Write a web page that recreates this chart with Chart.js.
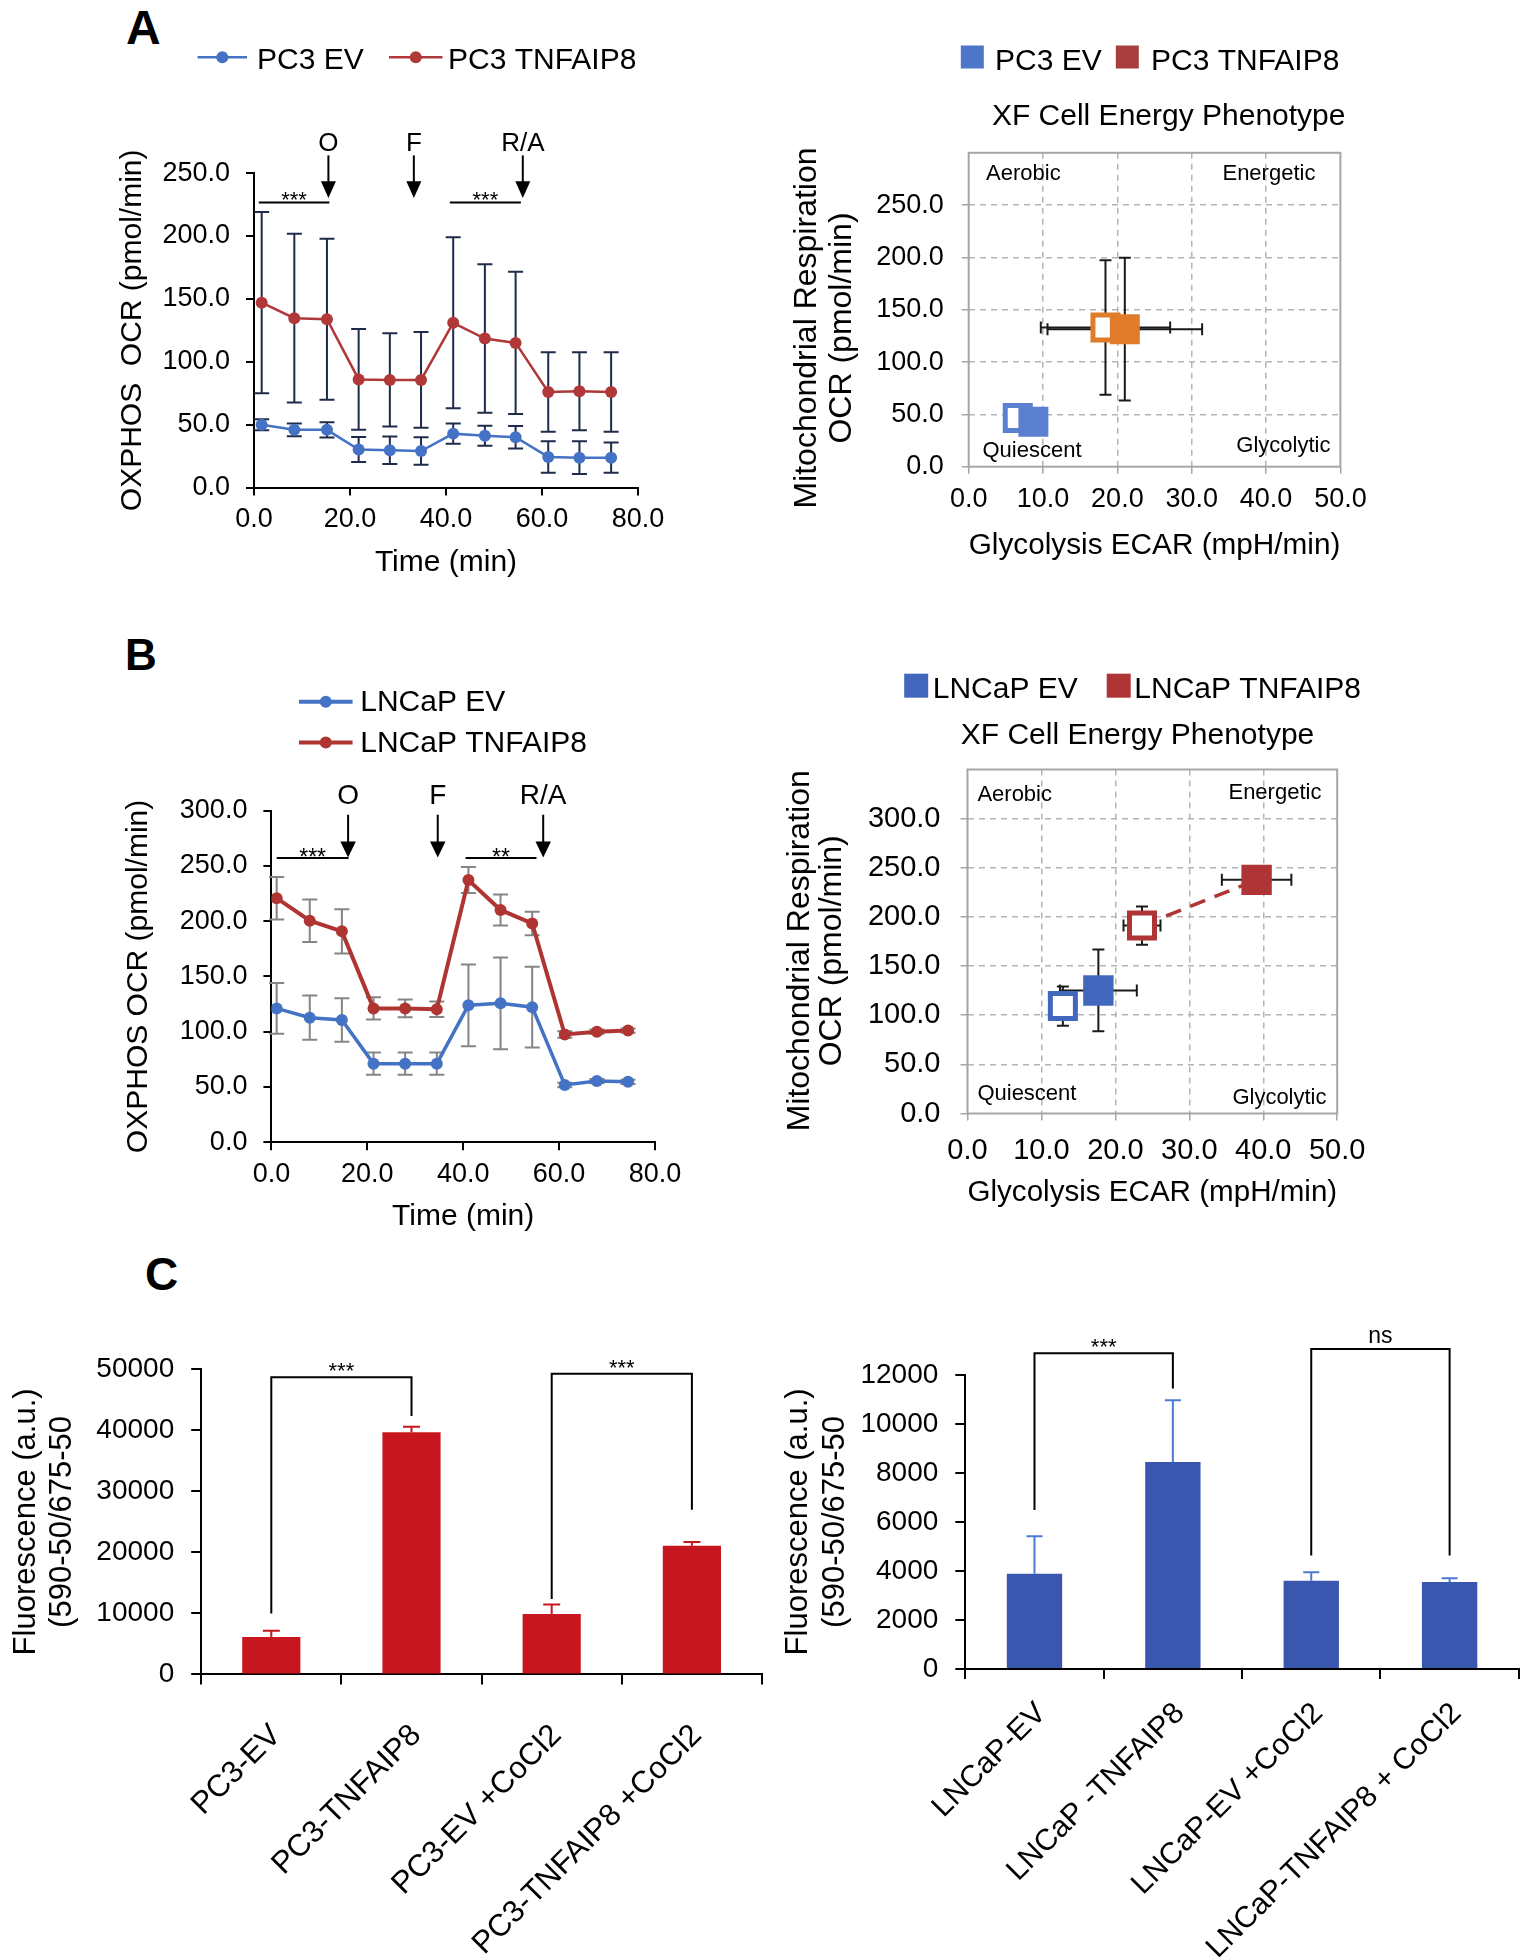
<!DOCTYPE html>
<html>
<head>
<meta charset="utf-8">
<title>TNFAIP8 metabolic phenotype</title>
<script src="https://cdn.jsdelivr.net/npm/chart.js@4.4.1/dist/chart.umd.min.js"></script>
<style>
html,body{margin:0;padding:0;background:#fff;}
body{position:relative;width:1530px;height:1957px;overflow:hidden;font-family:"Liberation Sans",Arial,sans-serif;}
canvas{position:absolute;}
.lt{position:absolute;font-weight:bold;line-height:1;color:#000;}
</style>
</head>
<body>
<div class="lt" style="left:126px;top:4px;font-size:48px">A</div>
<div class="lt" style="left:125px;top:633px;font-size:44px">B</div>
<div class="lt" style="left:145px;top:1251px;font-size:46px">C</div>
<script>
// ================= DATA =================
// Panel A (PC3) - Mito stress OCR time course
const timeA = [1.6, 8.4, 15.2, 21.8, 28.3, 34.8, 41.5, 48.1, 54.5, 61.3, 67.8, 74.4];
const pc3EvOcr = [50.0, 45.9, 45.9, 30.3, 29.7, 29.1, 42.9, 41.2, 40.0, 24.4, 23.8, 23.8];
const pc3EvSd = [4.4, 5.0, 6.0, 10.0, 11.0, 11.0, 8.0, 8.0, 9.0, 12.5, 13.0, 12.0];
const pc3TnfOcr = [147.0, 134.7, 133.8, 86.0, 85.6, 85.6, 131.0, 118.5, 115.0, 76.0, 76.5, 76.0];
const pc3TnfSd = [72.0, 67.0, 64.0, 40.0, 37.0, 38.0, 68.0, 59.0, 56.5, 31.6, 31.0, 31.6];
const injTimesA = [15.5, 33.3, 56.0];
const injLabels = ['O', 'F', 'R/A'];
const sigA = [[1.0, 15.7, '***'], [40.8, 55.6, '***']];

// Panel A (PC3) - energy phenotype
const pc3Groups = ['PC3 EV', 'PC3 TNFAIP8'];
const pc3BaseEcar = [6.6, 18.4];
const pc3BaseOcr = [46.5, 133.0];
const pc3BaseEcarSd = [0, 8.7];
const pc3BaseOcrSd = [0, 64.3];
const pc3StressEcar = [8.7, 21.0];
const pc3StressOcr = [42.9, 131.4];
const pc3StressEcarSd = [0, 10.4];
const pc3StressOcrSd = [0, 68.2];

// Panel B (LNCaP) - Mito stress OCR time course
const timeB = [1.1, 8.0, 14.7, 21.3, 27.9, 34.5, 41.1, 47.8, 54.4, 61.2, 67.9, 74.4];
const lncapEvOcr = [121.1, 112.7, 110.6, 71.1, 71.1, 71.1, 123.9, 125.7, 122.2, 51.8, 55.3, 54.6];
const lncapEvSd = [23.0, 20.0, 19.7, 10.0, 10.0, 10.0, 37.0, 41.5, 36.5, 2.0, 2.0, 2.0];
const lncapTnfOcr = [220.8, 200.4, 190.8, 121.1, 121.1, 120.4, 237.3, 210.2, 197.9, 97.5, 100.0, 101.0];
const lncapTnfSd = [19.3, 19.3, 20.0, 10.0, 8.0, 7.0, 11.7, 14.0, 10.6, 3.0, 2.0, 2.0];
const injTimesB = [16.0, 34.7, 56.7];
const sigB = [[1.1, 16.1, '***'], [40.5, 55.3, '**']];

// Panel B (LNCaP) - energy phenotype
const lncapGroups = ['LNCaP EV', 'LNCaP TNFAIP8'];
const lncapBaseEcar = [12.9, 23.6];
const lncapBaseOcr = [109.3, 191.2];
const lncapBaseEcarSd = [1.0, 2.5];
const lncapBaseOcrSd = [20.0, 19.5];
const lncapStressEcar = [17.7, 39.1];
const lncapStressOcr = [125.2, 237.7];
const lncapStressEcarSd = [5.2, 4.7];
const lncapStressOcrSd = [41.6, 3.0];

// Panel C - fluorescence
const pc3Cats = ['PC3-EV', 'PC3-TNFAIP8', 'PC3-EV +CoCl2', 'PC3-TNFAIP8 +CoCl2'];
const pc3Fluor = [6150, 39700, 9900, 21100];
const pc3FluorSd = [1000, 900, 1550, 600];
const pc3Brackets = [[0, 1, 48700, 9970, 42350, '***'], [2, 3, 49300, 12370, 26990, '***']];
const lncapCats = ['LNCaP-EV', 'LNCaP -TNFAIP8', 'LNCaP-EV +CoCl2', 'LNCaP-TNFAIP8 + CoCl2'];
const lncapFluor = [3880, 8450, 3600, 3550];
const lncapFluorSd = [1530, 2520, 340, 150];
const lncapBrackets = [[0, 1, 12880, 6490, 11440, '***'], [2, 3, 13060, 4630, 4630, 'ns']];

// ================= HELPERS =================
const FAM = '"Liberation Sans", Arial, Helvetica, sans-serif';
Chart.defaults.font.family = FAM;
Chart.defaults.color = '#000';
const CLEAR = 'rgba(0,0,0,0)';

function fnt(size, weight, lh) { return {family: FAM, size: size, weight: weight || 'normal', lineHeight: lh || 1.2}; }
function css(size, weight) { return (weight || 'normal') + ' ' + size + 'px ' + FAM; }
function capText(ctx, text, x, yc, size, align, weight) {
  ctx.font = css(size, weight); ctx.textAlign = align || 'left'; ctx.textBaseline = 'alphabetic';
  ctx.fillStyle = '#000';
  ctx.fillText(text, x, yc + 0.358 * size);
}
function starText(ctx, text, x, yc, size) {
  ctx.font = css(size); ctx.textAlign = 'center'; ctx.textBaseline = 'alphabetic'; ctx.fillStyle = '#000';
  ctx.fillText(text, x, yc + 0.575 * size);
}
function makeCtx(id, box) {
  const c = document.createElement('canvas');
  c.id = id; c.width = box.w; c.height = box.h;
  c.style.left = box.left + 'px'; c.style.top = box.top + 'px';
  c.style.width = box.w + 'px'; c.style.height = box.h + 'px';
  document.body.appendChild(c);
  return c.getContext('2d');
}
function padFor(box, area) {
  return {left: 0, top: area.t - box.top, right: box.left + box.w - area.r, bottom: 0};
}

// ================= LINE (OCR time course) =================
function buildLine(o) {
  const ctx = makeCtx(o.id, o.box);
  const datasets = o.series.map(s => ({
    label: s.label,
    data: o.times.map((t, i) => ({x: t, y: s.values[i]})),
    sd: s.sd,
    borderColor: s.color, backgroundColor: s.color,
    pointBackgroundColor: s.color, pointBorderColor: s.color,
    borderWidth: s.lw, pointRadius: s.pr, pointBorderWidth: 0, tension: 0, fill: false
  }));
  const errPlugin = {
    id: 'errbars',
    beforeDatasetsDraw(chart) {
      const c = chart.ctx, y = chart.scales.y;
      c.save(); c.strokeStyle = o.errColor; c.lineWidth = o.errWidth;
      chart.data.datasets.forEach((ds, i) => {
        const meta = chart.getDatasetMeta(i);
        meta.data.forEach((el, j) => {
          const v = ds.data[j].y, e = ds.sd[j];
          const yt = y.getPixelForValue(v + e), yb = y.getPixelForValue(v - e), x = el.x;
          c.beginPath();
          c.moveTo(x, yt); c.lineTo(x, yb);
          c.moveTo(x - o.cap, yt); c.lineTo(x + o.cap, yt);
          c.moveTo(x - o.cap, yb); c.lineTo(x + o.cap, yb);
          c.stroke();
        });
      });
      c.restore();
    }
  };
  const injPlugin = {
    id: 'injections',
    afterDraw(chart) {
      const c = chart.ctx, x = chart.scales.x, top = chart.chartArea.top, a = o.arrow;
      c.save(); c.strokeStyle = '#000'; c.fillStyle = '#000'; c.lineWidth = 2;
      o.injTimes.forEach((t, i) => {
        const px = x.getPixelForValue(t);
        const y0 = top + a.topDy, tip = top + a.tipDy;
        c.beginPath(); c.moveTo(px, y0); c.lineTo(px, tip - a.head + 1); c.stroke();
        c.beginPath(); c.moveTo(px - a.headW / 2, tip - a.head); c.lineTo(px + a.headW / 2, tip - a.head);
        c.lineTo(px, tip); c.closePath(); c.fill();
        capText(c, injLabels[i], px, top + a.labelDy, a.labelSize, 'center');
      });
      o.sig.forEach(s => {
        const xa = x.getPixelForValue(s[0]), xb = x.getPixelForValue(s[1]), yy = top + a.sigDy;
        c.beginPath(); c.moveTo(xa, yy); c.lineTo(xb, yy); c.stroke();
        starText(c, s[2], (xa + xb) / 2, top + a.starDy, a.starSize);
      });
      c.restore();
    }
  };
  const legendPlugin = {
    id: 'lineLegend',
    afterDraw(chart) {
      const c = chart.ctx;
      c.save();
      o.legend.forEach(it => {
        const ds = chart.data.datasets[it.ds];
        c.strokeStyle = ds.borderColor; c.lineWidth = o.legendLw;
        c.beginPath(); c.moveTo(it.x1, it.y); c.lineTo(it.x2, it.y); c.stroke();
        c.fillStyle = ds.pointBackgroundColor;
        c.beginPath(); c.arc((it.x1 + it.x2) / 2, it.y, o.legendR, 0, Math.PI * 2); c.fill();
        capText(c, ds.label, it.tx, it.ty, 30, 'left');
      });
      c.restore();
    }
  };
  const axisGrid = {drawOnChartArea: false, tickLength: 8, color: '#000', lineWidth: 2};
  return new Chart(ctx, {
    type: 'line',
    data: {datasets: datasets},
    options: {
      responsive: false, animation: false, events: [],
      layout: {padding: padFor(o.box, o.area)},
      plugins: {legend: {display: false}, tooltip: {enabled: false}, title: {display: false}},
      scales: {
        x: {
          type: 'linear', min: 0, max: 80,
          afterFit: s => { s.height = o.box.top + o.box.h - o.area.b; },
          ticks: {stepSize: 20, callback: v => v.toFixed(1), font: fnt(o.tickSize), color: '#000', padding: o.xPad, maxRotation: 0},
          grid: axisGrid, border: {color: '#000', width: 2},
          title: {display: true, text: o.xTitle, font: fnt(30), color: '#000', padding: {top: 0, bottom: o.xTitlePad}}
        },
        y: {
          type: 'linear', min: 0, max: o.yMax,
          afterFit: s => { s.width = o.area.l - o.box.left; },
          ticks: {stepSize: 50, callback: v => v.toFixed(1), font: fnt(o.tickSize), color: '#000', padding: o.yPad},
          grid: axisGrid, border: {color: '#000', width: 2},
          title: {display: true, text: o.yTitle, font: fnt(30), color: '#000', padding: {top: o.yTitlePad, bottom: 0}}
        }
      }
    },
    plugins: [errPlugin, injPlugin, legendPlugin]
  });
}

// ================= SCATTER (energy phenotype) =================
function buildPheno(o) {
  const ctx = makeCtx(o.id, o.box);
  const ds = [];
  o.groups.forEach((g, i) => {
    ds.push({type: 'line', label: g + ' link',
      data: [{x: o.bx[i], y: o.by[i]}, {x: o.sx[i], y: o.sy[i]}],
      borderColor: o.colors[i], borderDash: [16, 10], borderWidth: 3.5, pointRadius: 0, showLine: true, fill: false, order: 10});
    ds.push({type: 'scatter', label: g + ' baseline', data: [{x: o.bx[i], y: o.by[i]}],
      xsd: [o.bxsd[i]], ysd: [o.bysd[i]],
      pointStyle: 'rect', pointRadius: o.openR, pointBorderWidth: o.openBw,
      pointBackgroundColor: '#fff', pointBorderColor: o.colors[i], order: 5});
    ds.push({type: 'scatter', label: g + ' stressed', data: [{x: o.sx[i], y: o.sy[i]}],
      xsd: [o.sxsd[i]], ysd: [o.sysd[i]],
      pointStyle: 'rect', pointRadius: o.fillR, pointBorderWidth: 0,
      pointBackgroundColor: o.colors[i], pointBorderColor: o.colors[i], order: 1});
  });
  const ymaxLabel = o.yLabelMax;
  const decor = {
    id: 'phenoDecor',
    beforeDatasetsDraw(chart) {
      const c = chart.ctx, a = chart.chartArea, xs = chart.scales.x, ys = chart.scales.y;
      c.save();
      c.strokeStyle = '#A6A6A6'; c.lineWidth = 2;
      c.strokeRect(a.left, a.top, a.right - a.left, a.bottom - a.top);
      c.strokeStyle = '#1a1a1a'; c.lineWidth = 2;
      chart.data.datasets.forEach((d, i) => {
        if (!d.xsd) return;
        const p = d.data[0];
        const px = xs.getPixelForValue(p.x), py = ys.getPixelForValue(p.y);
        if (d.xsd[0] > 0) {
          const x1 = xs.getPixelForValue(p.x - d.xsd[0]), x2 = xs.getPixelForValue(p.x + d.xsd[0]);
          c.beginPath(); c.moveTo(x1, py); c.lineTo(x2, py);
          c.moveTo(x1, py - o.cap); c.lineTo(x1, py + o.cap);
          c.moveTo(x2, py - o.cap); c.lineTo(x2, py + o.cap); c.stroke();
        }
        if (d.ysd[0] > 0) {
          const y1 = ys.getPixelForValue(p.y + d.ysd[0]), y2 = ys.getPixelForValue(p.y - d.ysd[0]);
          c.beginPath(); c.moveTo(px, y1); c.lineTo(px, y2);
          c.moveTo(px - o.cap, y1); c.lineTo(px + o.cap, y1);
          c.moveTo(px - o.cap, y2); c.lineTo(px + o.cap, y2); c.stroke();
        }
      });
      c.restore();
    },
    afterDraw(chart) {
      const c = chart.ctx, a = chart.chartArea, q = o.quad;
      c.save();
      capText(c, 'Aerobic', a.left + q.aero[0], a.top + q.aero[1], 22, 'left');
      capText(c, 'Energetic', a.right + q.ener[0], a.top + q.ener[1], 22, 'right');
      capText(c, 'Quiescent', a.left + q.quie[0], a.bottom + q.quie[1], 22, 'left');
      capText(c, 'Glycolytic', a.right + q.glyc[0], a.bottom + q.glyc[1], 22, 'right');
      o.legend.forEach((it, i) => {
        c.fillStyle = o.legendColors[i];
        c.fillRect(it.x, it.y - o.legSize / 2, o.legSize, o.legSize);
        capText(c, o.groups[i], it.tx, it.ty, 30, 'left');
      });
      capText(c, 'XF Cell Energy Phenotype', o.title[0], o.title[1], 30, 'center');
      const lines = ['Mitochondrial Respiration', 'OCR (pmol/min)'];
      lines.forEach((t, i) => {
        c.save();
        c.translate(o.yTitleX[i], o.yTitleY);
        c.rotate(-Math.PI / 2);
        c.font = css(o.yTitleSize); c.textAlign = 'center'; c.textBaseline = 'middle'; c.fillStyle = '#000';
        c.fillText(t, 0, 0);
        c.restore();
      });
      c.restore();
    }
  };
  return new Chart(ctx, {
    type: 'scatter',
    data: {datasets: ds},
    options: {
      responsive: false, animation: false, events: [],
      layout: {padding: padFor(o.box, o.area)},
      plugins: {legend: {display: false}, tooltip: {enabled: false}, title: {display: false}},
      scales: {
        x: {
          type: 'linear', min: 0, max: 50,
          afterFit: s => { s.height = o.box.top + o.box.h - o.area.b; },
          ticks: {stepSize: 10, callback: v => v.toFixed(1), font: fnt(o.tickSize), color: '#000', padding: o.xPad, maxRotation: 0},
          grid: {
            color: c => (c.tick && (c.tick.value <= 0 || c.tick.value >= 50)) ? CLEAR : '#B4B4B4',
            tickColor: '#A6A6A6', lineWidth: 1.5, tickLength: 7
          },
          border: {display: false, dash: [6, 5]},
          title: {display: true, text: 'Glycolysis ECAR (mpH/min)', font: fnt(30), color: '#000', padding: {top: 0, bottom: o.xTitlePad}}
        },
        y: {
          type: 'linear', min: 0, max: o.yMax,
          afterFit: s => { s.width = o.area.l - o.box.left; },
          ticks: {stepSize: 50, callback: v => (v > ymaxLabel ? '' : v.toFixed(1)), font: fnt(o.tickSize), color: '#000', padding: o.yPad},
          grid: {
            color: c => (c.tick && (c.tick.value <= 0 || c.tick.value > ymaxLabel)) ? CLEAR : '#B4B4B4',
            tickColor: c => (c.tick && c.tick.value > ymaxLabel) ? CLEAR : '#A6A6A6',
            lineWidth: 1.5, tickLength: 7
          },
          border: {display: false, dash: [6, 5]},
          title: {display: false}
        }
      }
    },
    plugins: [decor]
  });
}

// ================= BARS (fluorescence) =================
function buildBars(o) {
  const ctx = makeCtx(o.id, o.box);
  const decor = {
    id: 'barDecor',
    afterDatasetsDraw(chart) {
      const c = chart.ctx, y = chart.scales.y, meta = chart.getDatasetMeta(0), d = chart.data.datasets[0];
      c.save();
      c.strokeStyle = o.errColor; c.lineWidth = 2;
      meta.data.forEach((el, j) => {
        const yt = y.getPixelForValue(d.data[j] + d.sd[j]), yv = y.getPixelForValue(d.data[j]);
        c.beginPath(); c.moveTo(el.x, yv); c.lineTo(el.x, yt);
        c.moveTo(el.x - o.cap, yt); c.lineTo(el.x + o.cap, yt); c.stroke();
      });
      c.strokeStyle = '#000'; c.lineWidth = 2;
      o.brackets.forEach(b => {
        const xa = meta.data[b[0]].x, xb = meta.data[b[1]].x;
        const yl = y.getPixelForValue(b[2]);
        c.beginPath();
        c.moveTo(xa, y.getPixelForValue(b[3])); c.lineTo(xa, yl); c.lineTo(xb, yl); c.lineTo(xb, y.getPixelForValue(b[4]));
        c.stroke();
        if (b[5] === 'ns') {
          c.font = css(23); c.textAlign = 'center'; c.textBaseline = 'alphabetic'; c.fillStyle = '#000';
          c.fillText('ns', (xa + xb) / 2, yl - 6);
        } else {
          starText(c, b[5], (xa + xb) / 2, yl - 11.5, 22);
        }
      });
      c.restore();
    }
  };
  const axisGrid = {drawOnChartArea: false, tickLength: 10, color: '#000', lineWidth: 2};
  return new Chart(ctx, {
    type: 'bar',
    data: {labels: o.cats, datasets: [{label: 'Fluorescence', data: o.values, sd: o.sd,
      backgroundColor: o.color, borderWidth: 0, barPercentage: o.barPct, categoryPercentage: 1}]},
    options: {
      responsive: false, animation: false, events: [],
      layout: {padding: padFor(o.box, o.area)},
      plugins: {legend: {display: false}, tooltip: {enabled: false}, title: {display: false}},
      scales: {
        x: {
          afterFit: s => { s.height = o.box.top + o.box.h - o.area.b; },
          ticks: {font: fnt(o.xFont), color: '#000', minRotation: 45, maxRotation: 45, padding: o.xPad, labelOffset: o.labelOffset, autoSkip: false},
          grid: Object.assign({offset: true}, axisGrid),
          border: {color: '#000', width: 2}
        },
        y: {
          min: 0, max: o.yMax,
          afterFit: s => { s.width = o.area.l - o.box.left; },
          ticks: {stepSize: o.yStep, callback: v => String(v), font: fnt(28), color: '#000', padding: 17},
          grid: axisGrid, border: {color: '#000', width: 2},
          title: {display: true, text: ['Fluorescence (a.u.)', '(590-50/675-50'], font: fnt(31, 'normal', 1.17), color: '#000',
            padding: {top: o.yTitlePad, bottom: 0}}
        }
      }
    },
    plugins: [decor]
  });
}

// ================= BUILD =================
buildLine({
  id: 'lineA', box: {left: 100, top: 0, w: 600, h: 600}, area: {l: 254, r: 638, t: 173.1, b: 487.6},
  times: timeA, yMax: 250, tickSize: 27, xPad: 8, yPad: 16,
  xTitle: 'Time (min)', xTitlePad: 19.7, yTitle: 'OXPHOS  OCR (pmol/min)', yTitlePad: 14.5,
  series: [
    {label: 'PC3 EV', values: pc3EvOcr, sd: pc3EvSd, color: '#4472C4', lw: 2.5, pr: 6},
    {label: 'PC3 TNFAIP8', values: pc3TnfOcr, sd: pc3TnfSd, color: '#B03838', lw: 2.5, pr: 6}
  ],
  errColor: '#1F2B4B', errWidth: 2, cap: 7.5,
  injTimes: injTimesA, sig: sigA,
  arrow: {topDy: -17.7, tipDy: 24.8, head: 16.6, headW: 15, labelDy: -31.6, labelSize: 26, sigDy: 29.3, starDy: 21.1, starSize: 22},
  legend: [{ds: 0, x1: 97.6, x2: 147, y: 57.3, tx: 157, ty: 58.3}, {ds: 1, x1: 289, x2: 342.5, y: 57.3, tx: 348, ty: 58.3}],
  legendLw: 2.5, legendR: 6
});

buildPheno({
  id: 'phenoA', box: {left: 760, top: 0, w: 770, h: 580}, area: {l: 968.7, r: 1340.4, t: 152.8, b: 466.7},
  yMax: 300, yLabelMax: 250, tickSize: 27, xPad: 10, yPad: 18, xTitlePad: 16,
  groups: pc3Groups, colors: ['#5B80D0', '#E07B2A'], legendColors: ['#4F75C9', '#A83E3E'],
  bx: pc3BaseEcar, by: pc3BaseOcr, bxsd: pc3BaseEcarSd, bysd: pc3BaseOcrSd,
  sx: pc3StressEcar, sy: pc3StressOcr, sxsd: pc3StressEcarSd, sysd: pc3StressOcrSd,
  openR: 17.7, openBw: 5, fillR: 21.2, cap: 6,
  quad: {aero: [17.4, 19.8], ener: [-25, 19.2], quie: [13.8, -17.7], glyc: [-10, -22.8]},
  legend: [{x: 200.8, y: 57, tx: 235, ty: 59.7}, {x: 355.8, y: 57, tx: 391, ty: 59.7}], legSize: 23,
  title: [408.7, 114.3], yTitleX: [47, 82], yTitleY: 328, yTitleSize: 32
});

buildLine({
  id: 'lineB', box: {left: 100, top: 630, w: 620, h: 620}, area: {l: 271.4, r: 654.9, t: 810.7, b: 1142.2},
  times: timeB, yMax: 300, tickSize: 27, xPad: 8, yPad: 16,
  xTitle: 'Time (min)', xTitlePad: 15, yTitle: 'OXPHOS OCR (pmol/min)', yTitlePad: 20.3,
  series: [
    {label: 'LNCaP EV', values: lncapEvOcr, sd: lncapEvSd, color: '#4472C4', lw: 3.5, pr: 6},
    {label: 'LNCaP TNFAIP8', values: lncapTnfOcr, sd: lncapTnfSd, color: '#AF3533', lw: 4, pr: 6}
  ],
  errColor: '#858585', errWidth: 2, cap: 7.5,
  injTimes: injTimesB, sig: sigB,
  arrow: {topDy: 4, tipDy: 46.7, head: 16, headW: 15.5, labelDy: -16.6, labelSize: 28, sigDy: 47.3, starDy: 41, starSize: 23},
  legend: [{ds: 0, x1: 199, x2: 252.6, y: 71.7, tx: 260.2, ty: 70.7}, {ds: 1, x1: 199, x2: 252.6, y: 112.6, tx: 260.2, ty: 111.6}],
  legendLw: 4, legendR: 6
});

buildPheno({
  id: 'phenoB', box: {left: 760, top: 640, w: 770, h: 600}, area: {l: 967.5, r: 1337.2, t: 769.5, b: 1113.5},
  yMax: 350, yLabelMax: 300, tickSize: 29, xPad: 12.6, yPad: 20, xTitlePad: 29,
  groups: lncapGroups, colors: ['#4268BE', '#AE3436'], legendColors: ['#4268BE', '#AE3436'],
  bx: lncapBaseEcar, by: lncapBaseOcr, bxsd: lncapBaseEcarSd, bysd: lncapBaseOcrSd,
  sx: lncapStressEcar, sy: lncapStressOcr, sxsd: lncapStressEcarSd, sysd: lncapStressOcrSd,
  openR: 17.7, openBw: 5, fillR: 21.5, cap: 6,
  quad: {aero: [9.9, 23.3], ener: [-15.8, 21.4], quie: [9.9, -21], glyc: [-10.7, -17.3]},
  legend: [{x: 144.2, y: 45.7, tx: 172.7, ty: 47}, {x: 346.7, y: 45.7, tx: 374.3, ty: 47}], legSize: 24,
  title: [377.5, 93], yTitleX: [40, 72], yTitleY: 310.8, yTitleSize: 32
});

buildBars({
  id: 'barsPC3', box: {left: 0, top: 1290, w: 770, h: 667}, area: {l: 201.2, r: 762, t: 1369.4, b: 1674.4},
  cats: pc3Cats, values: pc3Fluor, sd: pc3FluorSd, color: '#C8161E', errColor: '#C8161E',
  barPct: 0.415, yMax: 50000, yStep: 10000, yTitlePad: 8.5, cap: 8.5, brackets: pc3Brackets,
  xFont: 31, xPad: 33, labelOffset: 5
});

buildBars({
  id: 'barsLNCaP', box: {left: 770, top: 1290, w: 760, h: 667}, area: {l: 965.3, r: 1518.8, t: 1374.9, b: 1668.9},
  cats: lncapCats, values: lncapFluor, sd: lncapFluorSd, color: '#3A57AF', errColor: '#4B7BD0',
  barPct: 0.40, yMax: 12000, yStep: 2000, yTitlePad: 10.8, cap: 8, brackets: lncapBrackets,
  xFont: 30, xPad: 17, labelOffset: 7
});
</script>
</body>
</html>
